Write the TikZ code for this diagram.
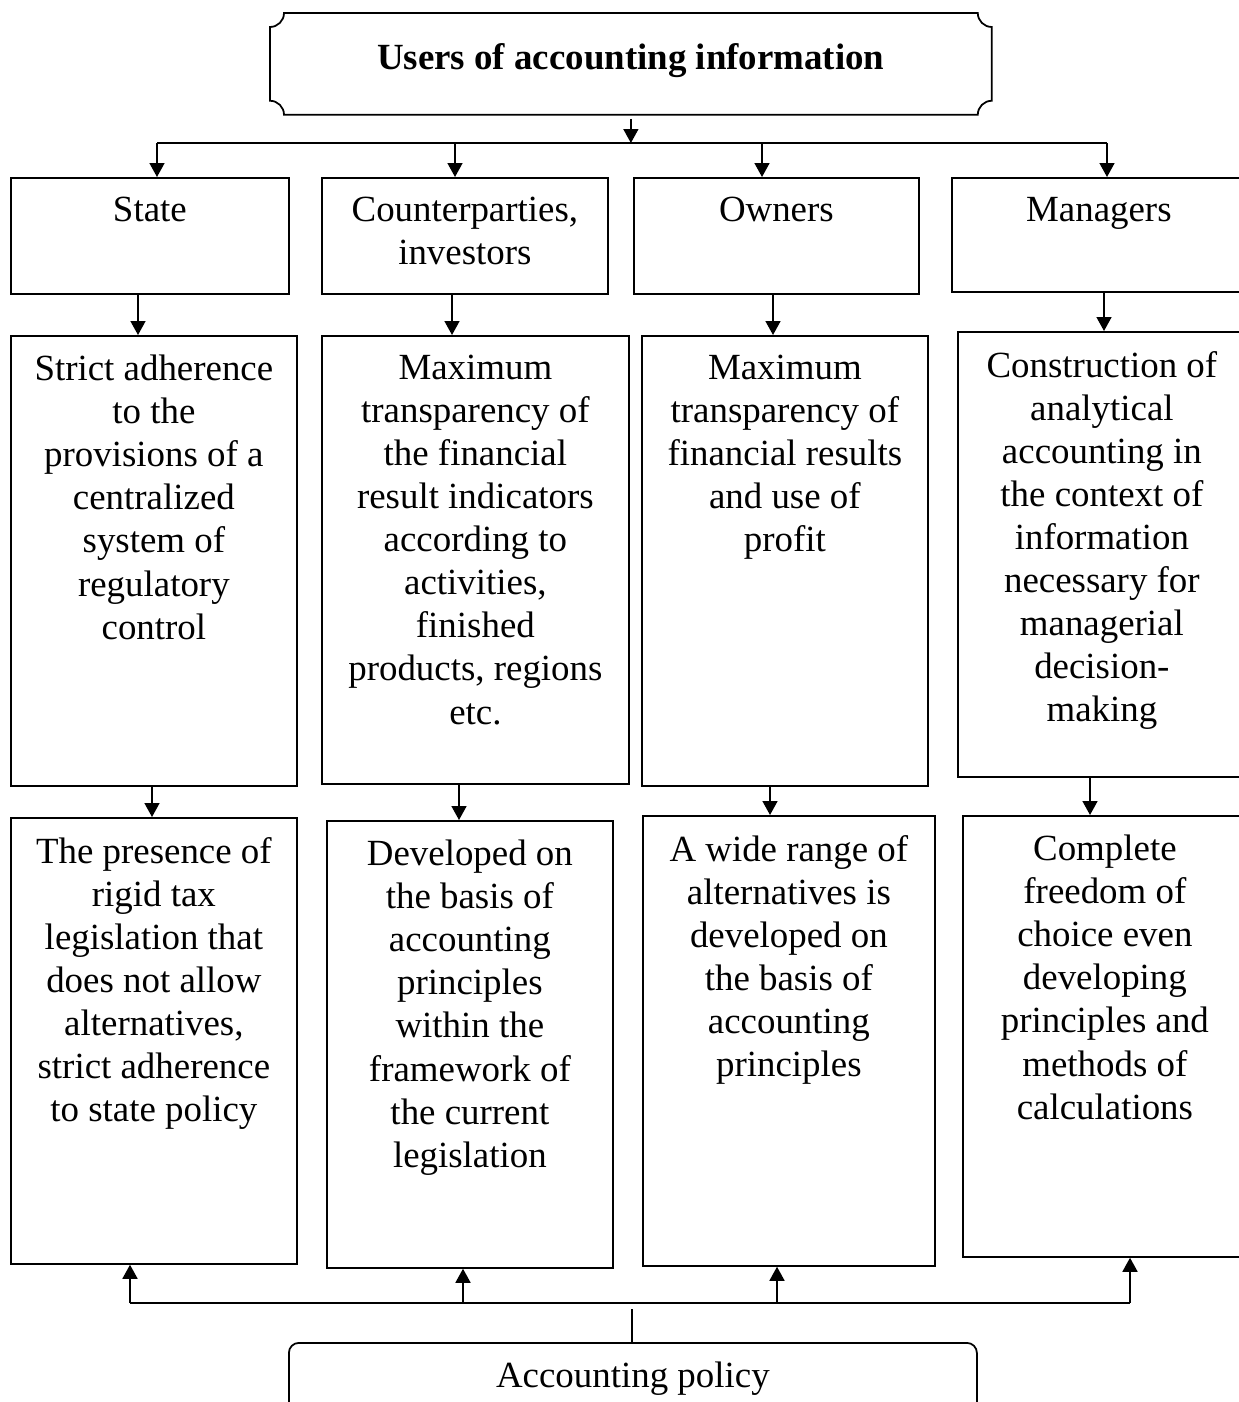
\documentclass[tikz,border=0pt]{standalone}
\usepackage{fontspec}
\setmainfont{Liberation Serif}
\usetikzlibrary{arrows.meta,calc}

\newlength\pxu
\setlength\pxu{0.02cm}
% text cell: width, height (px), text set from the top
\newcommand{\cell}[3]{\parbox[c][#2\pxu][t]{#1\pxu}{\centering\vspace*{11pt}#3\par}}

\tikzset{
  cellbox/.style={draw, line width=1pt, inner sep=0pt, anchor=north west,
    font=\fontsize{21pt}{24.5pt}\selectfont},
  arr/.style={-{Triangle[length=0.28cm,width=0.3cm]}, line width=0.9pt},
  bus/.style={line width=1pt}
}

\begin{document}
\begin{tikzpicture}[x=0.02cm, y=-0.02cm]
	\useasboundingbox (0,0) rectangle (1239,1402);
	\clip (0,0) rectangle (1239,1402);

	% top and bottom
	\node[cellbox, draw=none] (users) at (270,13) {\parbox[c][100\pxu][t]{720\pxu}{\centering\vspace*{17pt}\textbf{Users of accounting information}\par}};
	\draw[line width=1pt] ([xshift=-0.28cm]users.north east) arc (180:270:0.28cm)
		-- ([yshift=0.28cm]users.south east) arc (90:180:0.28cm)
		-- ([xshift=0.28cm]users.south west) arc (0:90:0.28cm)
		-- ([yshift=-0.28cm]users.north west) arc (270:360:0.28cm) -- cycle;
	\node[cellbox, rounded corners=0.2cm] (policy) at (288,1342) {\cell{688}{90}{Accounting policy}};

	% users
	\node[cellbox] (state)    at (10,177)  {\cell{278}{116}{State}};
	\node[cellbox] (counter)  at (321,177) {\cell{286}{116}{Counterparties,\\investors}};
	\node[cellbox] (owners)   at (633,177) {\cell{285}{116}{Owners}};
	\node[cellbox] (managers) at (951,177) {\cell{294}{114}{Managers}};

	% requirements
	\node[cellbox] (stateA)    at (10,335)  {\cell{286}{450}{Strict adherence\\to the\\provisions of a\\centralized\\system of\\regulatory\\control}};
	\node[cellbox] (counterA)  at (321,335) {\cell{307}{448}{Maximum\\transparency of\\the financial\\result indicators\\according to\\activities,\\finished\\products, regions\\etc.}};
	\node[cellbox] (ownersA)   at (641,335) {\cell{286}{450}{Maximum\\transparency of\\financial results\\and use of\\profit}};
	\node[cellbox] (managersA) at (957,331) {\cell{288}{445}{Construction of\\analytical\\accounting in\\the context of\\information\\necessary for\\managerial\\decision-\\making}};

	% policy options
	\node[cellbox] (stateB)    at (10,817)  {\cell{286}{446}{The presence of\\rigid tax\\legislation that\\does not allow\\alternatives,\\strict adherence\\to state policy}};
	\node[cellbox] (counterB)  at (326,820) {\cell{286}{447}{Developed on\\the basis of\\accounting\\principles\\within the\\framework of\\the current\\legislation}};
	\node[cellbox] (ownersB)   at (642,815) {\cell{292}{450}{A wide range of\\alternatives is\\developed on\\the basis of\\accounting\\principles}};
	\node[cellbox] (managersB) at (962,815) {\cell{284}{441}{Complete\\freedom of\\choice even\\developing\\principles and\\methods of\\calculations}};

	% upper bus
	\coordinate (tS) at (157,143);
	\coordinate (tC) at (455,143);
	\coordinate (tO) at (762,143);
	\coordinate (tM) at (1107,143);
	\draw[bus] (tS) -- (tM);
	\draw[arr] ([yshift=-0.08cm]users.south) -- (users.south |- tS);
	\draw[arr] (tS) -- (tS |- state.north);
	\draw[arr] (tC) -- (tC |- counter.north);
	\draw[arr] (tO) -- (tO |- owners.north);
	\draw[arr] (tM) -- (tM |- managers.north);

	\draw[arr] (state.south -| 138,0)    -- (stateA.north -| 138,0);
	\draw[arr] (counter.south -| 452,0)  -- (counterA.north -| 452,0);
	\draw[arr] (owners.south -| 773,0)   -- (ownersA.north -| 773,0);
	\draw[arr] (managers.south -| 1104,0) -- (managersA.north -| 1104,0);

	\draw[arr] (stateA.south -| 152,0)    -- (stateB.north -| 152,0);
	\draw[arr] (counterA.south -| 459,0)  -- (counterB.north -| 459,0);
	\draw[arr] (ownersA.south -| 770,0)   -- (ownersB.north -| 770,0);
	\draw[arr] (managersA.south -| 1090,0) -- (managersB.north -| 1090,0);

	% lower bus
	\coordinate (bS) at (130,1303);
	\coordinate (bC) at (463,1303);
	\coordinate (bO) at (777,1303);
	\coordinate (bM) at (1130,1303);
	\coordinate (bP) at (632,1309);
	\draw[bus] (bS) -- (bM);
	\draw[arr] (bS) -- (bS |- stateB.south);
	\draw[arr] (bC) -- (bC |- counterB.south);
	\draw[arr] (bO) -- (bO |- ownersB.south);
	\draw[arr] (bM) -- (bM |- managersB.south);
	\draw[bus] (policy.north -| bP) -- (bP);
\end{tikzpicture}
\end{document}
